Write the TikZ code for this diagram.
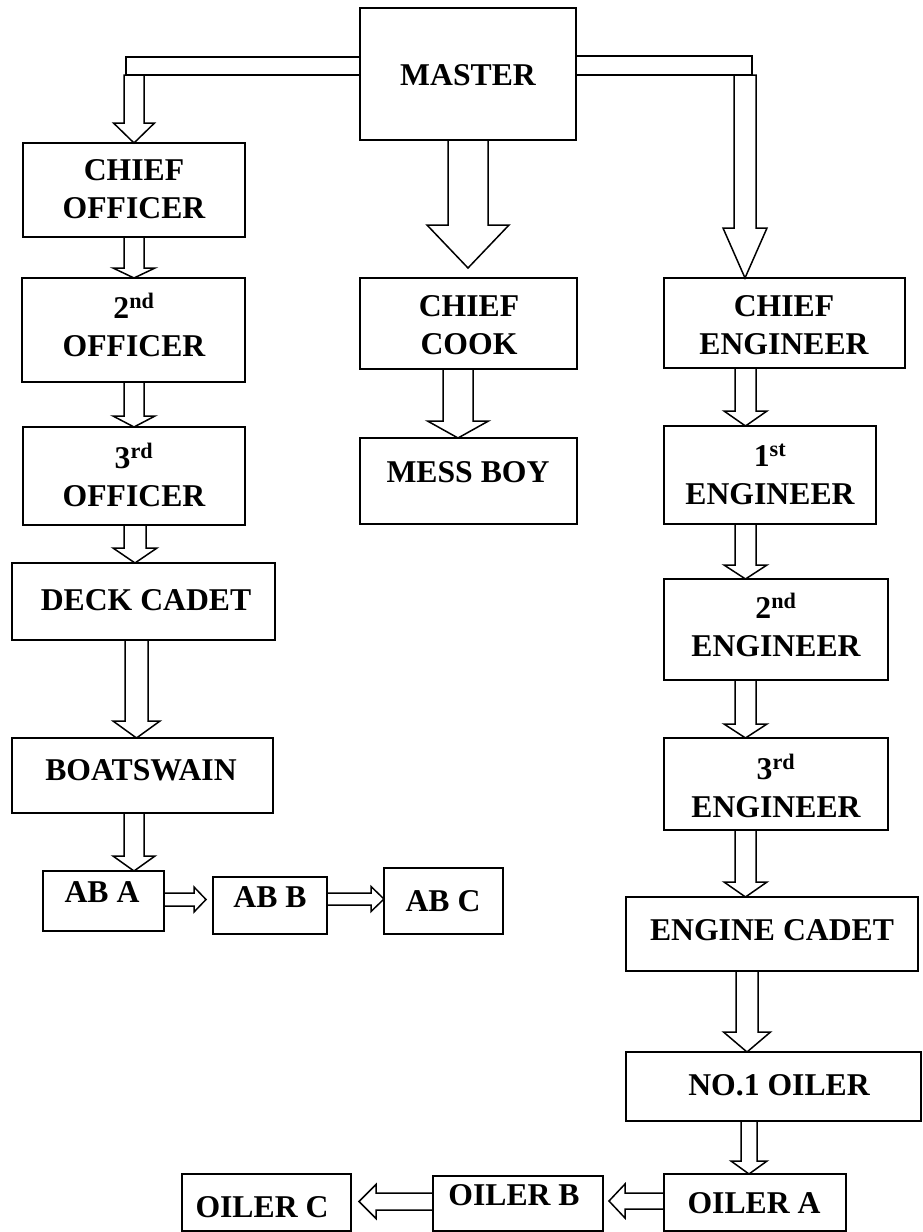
\documentclass[tikz,border=0pt]{standalone}
\usepackage{fontspec}
\setmainfont{Liberation Serif}
\usetikzlibrary{calc}
\newcommand\ml[1]{\begin{tabular}[t]{@{}c@{}}#1\end{tabular}}
% box from pixel corners
\newcommand\bx[5]{\node[box, minimum width={#4pt-#2pt}, minimum height={#5pt-#3pt}] (#1) at ({(#2+#4)/2},{(#3+#5)/2}) {};}
% down block arrow: x, from, to, shaft half width, head half width, head length, tip gap
\newcommand\darr[7]{\draw[conn] let \p1=(#2.south), \p2=(#3.north) in
  ({(#1-#4)*1pt},\y1) -- ({(#1-#4)*1pt},{\y2+(#6+#7)*1pt}) -- ({(#1-#5)*1pt},{\y2+(#6+#7)*1pt})
  -- ({#1*1pt},{\y2+#7*1pt}) -- ({(#1+#5)*1pt},{\y2+(#6+#7)*1pt}) -- ({(#1+#4)*1pt},{\y2+(#6+#7)*1pt})
  -- ({(#1+#4)*1pt},\y1);}
% right block arrow: y, from, to, w, h, L, gap
\newcommand\rarr[7]{\draw[conn] let \p1=(#2.east), \p2=(#3.west) in
  (\x1,{-(#1-#4)*1pt}) -- ({\x2-(#6+#7)*1pt},{-(#1-#4)*1pt}) -- ({\x2-(#6+#7)*1pt},{-(#1-#5)*1pt})
  -- ({\x2-#7*1pt},{-#1*1pt}) -- ({\x2-(#6+#7)*1pt},{-(#1+#5)*1pt}) -- ({\x2-(#6+#7)*1pt},{-(#1+#4)*1pt})
  -- (\x1,{-(#1+#4)*1pt});}
% left block arrow
\newcommand\larr[7]{\draw[conn] let \p1=(#2.west), \p2=(#3.east) in
  (\x1,{-(#1-#4)*1pt}) -- ({\x2+(#6+#7)*1pt},{-(#1-#4)*1pt}) -- ({\x2+(#6+#7)*1pt},{-(#1-#5)*1pt})
  -- ({\x2+#7*1pt},{-#1*1pt}) -- ({\x2+(#6+#7)*1pt},{-(#1+#5)*1pt}) -- ({\x2+(#6+#7)*1pt},{-(#1+#4)*1pt})
  -- (\x1,{-(#1+#4)*1pt});}
\tikzset{
  box/.style={draw=black, line width=1.5pt, rectangle, inner sep=0pt, outer sep=0pt},
  conn/.style={draw=black, line width=1.5pt, line join=miter},
  lbl/.style={anchor=base, inner sep=0pt, font=\bfseries\fontsize{31.7}{38.5}\selectfont}
}
\begin{document}
\begin{tikzpicture}[x=1pt,y=-1pt]
\useasboundingbox (0,0) rectangle (923,1232);
% boxes
\bx{master}{360}{8}{576}{140}
\bx{co}{23}{143}{245}{237}
\bx{o2}{22}{278}{245}{382}
\bx{o3}{23}{427}{245}{525}
\bx{dc}{12}{563}{275}{640}
\bx{bs}{12}{738}{273}{813}
\bx{aba}{43}{871}{164}{931}
\bx{abb}{213}{877}{327}{934}
\bx{abc}{384}{868}{503}{934}
\bx{cook}{360}{278}{577}{369}
\bx{mess}{360}{438}{577}{524}
\bx{ce}{664}{278}{905}{368}
\bx{e1}{664}{426}{876}{524}
\bx{e2}{664}{579}{888}{680}
\bx{e3}{664}{738}{888}{830}
\bx{ec}{626}{897}{918}{971}
\bx{no1}{626}{1052}{921}{1121}
\bx{oa}{664}{1174}{846}{1231}
\bx{ob}{433}{1176}{603}{1231}
\bx{oc}{182}{1174}{351}{1231}
% labels
\node[lbl] (master-l) at (468,85) {MASTER};
\node[lbl] (co-l) at (134,180) {\ml{CHIEF\\OFFICER}};
\node[lbl] (o2-l) at (134,318) {\ml{2\textsuperscript{nd}\\OFFICER}};
\node[lbl] (o3-l) at (134,468) {\ml{3\textsuperscript{rd}\\OFFICER}};
\node[lbl] (dc-l) at (146,610) {DECK CADET};
\node[lbl] (bs-l) at (141,780) {BOATSWAIN};
\node[lbl] (aba-l) at (102,902) {AB A};
\node[lbl] (abb-l) at (270,907) {AB B};
\node[lbl] (abc-l) at (443,911) {AB C};
\node[lbl] (cook-l) at (469,316) {\ml{CHIEF\\COOK}};
\node[lbl] (mess-l) at (468,482) {MESS BOY};
\node[lbl] (ce-l) at (784,316) {\ml{CHIEF\\ENGINEER}};
\node[lbl] (e1-l) at (770,466) {\ml{1\textsuperscript{st}\\ENGINEER}};
\node[lbl] (e2-l) at (776,618) {\ml{2\textsuperscript{nd}\\ENGINEER}};
\node[lbl] (e3-l) at (776,779) {\ml{3\textsuperscript{rd}\\ENGINEER}};
\node[lbl] (ec-l) at (772,940) {ENGINE CADET};
\node[lbl] (no1-l) at (779,1095) {NO.1 OILER};
\node[lbl] (oa-l) at (754,1213) {OILER A};
\node[lbl] (ob-l) at (514,1205) {OILER B};
\node[lbl] (oc-l) at (262,1217) {OILER C};
% master side connectors
\draw[conn] (master.west |- 0,57) -- (126,57) -- (126,75) -- (master.west |- 0,75);
\draw[conn] (124,75) -- (124,123) -- (113.5,123) -- (co.north -| 134,0) -- (154.5,123) -- (144,123) -- (144,75) -- cycle;
\draw[conn] (master.east |- 0,56) -- (752,56) -- (752,75) -- (master.east |- 0,75);
\draw[conn] (734,75) -- (734,228) -- (723,228) -- (ce.north -| 745,0) -- (767,228) -- (756,228) -- (756,75) -- cycle;
% down arrows
\darr{468}{master}{cook}{20}{41}{43}{10}
\darr{458}{cook}{mess}{15}{30.5}{17}{0}
\darr{134}{co}{o2}{10}{21}{10}{0}
\darr{134}{o2}{o3}{10}{21}{11}{0}
\darr{135}{o3}{dc}{11}{22}{15}{0}
\darr{136.5}{dc}{bs}{11.5}{23.5}{17}{0}
\darr{134}{bs}{aba}{10}{21}{15}{0}
\darr{745.5}{ce}{e1}{10.5}{21.5}{15}{0}
\darr{745.5}{e1}{e2}{10.5}{21.5}{14}{0}
\darr{745.5}{e2}{e3}{10.5}{21.5}{14}{0}
\darr{745.5}{e3}{ec}{10.5}{21.5}{15}{0}
\darr{747}{ec}{no1}{11}{23.5}{20}{0}
\darr{749}{no1}{oa}{8}{18}{13}{0}
% horizontal arrows
\rarr{899.5}{aba}{abb}{6.5}{12.5}{12}{7}
\rarr{899}{abb}{abc}{6}{12.5}{13}{0}
\larr{1201}{oa}{ob}{8}{17}{16}{6}
\larr{1201.5}{ob}{oc}{8.5}{17}{17}{8}
\end{tikzpicture}
\end{document}
